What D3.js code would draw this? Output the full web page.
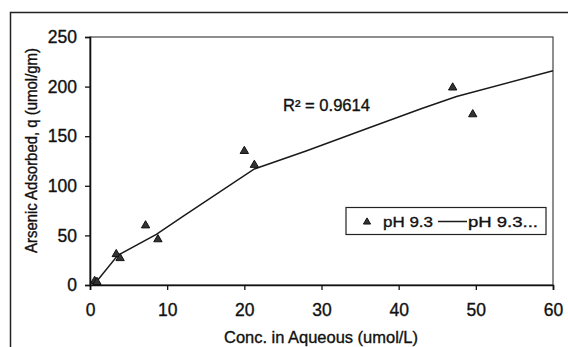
<!DOCTYPE html>
<html>
<head>
<meta charset="utf-8">
<script src="https://cdn.jsdelivr.net/npm/d3@7"></script>
<style>
  html, body { margin: 0; padding: 0; background: #fff; }
  svg { display: block; font-family: "Liberation Sans", Arial, sans-serif; }
  svg text { stroke: #111; stroke-width: 0.35px; }
</style>
</head>
<body>
<svg id="chart" width="568" height="347"></svg>
<script>
// Measured adsorption at pH 9.3
const concValues = [0.6, 0.9, 3.4, 3.9, 7.2, 8.8, 20.0, 21.3, 47.0, 49.6];
const qValues    = [4, 3, 31, 27, 60, 46, 135, 121, 199, 172];

// Trendline through the measurements
const trendConc = [0.8, 3.6, 8.6, 12.0, 21.3, 28.0, 36.0, 43.0, 47.5, 60.0];
const trendQ    = [3, 30, 51, 69, 117, 135, 158, 178, 190, 216];

const xTicks = [0, 10, 20, 30, 40, 50, 60];
const yTicks = [0, 50, 100, 150, 200, 250];

const seriesName = "pH 9.3";
const trendName = "pH 9.3...";
const rSquared = "R\u00B2 = 0.9614";
const xTitle = "Conc. in Aqueous (umol/L)";
const yTitle = "Arsenic Adsorbed, q (umol/gm)";

const svg = d3.select("#chart");
const plot = { left: 90, right: 553, top: 37, bottom: 285 };

const x = d3.scaleLinear().domain([0, 60]).range([plot.left, plot.right]);
const y = d3.scaleLinear().domain([0, 250]).range([plot.bottom, plot.top]);

// Outer chart border (runs off the right and bottom edges)
svg.append("path")
  .attr("d", "M10.5,347 L10.5,12.5 L568,12.5")
  .attr("fill", "none").attr("stroke", "#222").attr("stroke-width", 1.5);

// Plot area frame
svg.append("rect")
  .attr("x", plot.left).attr("y", plot.top)
  .attr("width", plot.right - plot.left).attr("height", plot.bottom - plot.top)
  .attr("fill", "none").attr("stroke", "#444").attr("stroke-width", 1.2);

// Axes
const xAxis = svg.append("g")
  .attr("transform", `translate(0,${plot.bottom})`)
  .call(d3.axisBottom(x).tickValues(xTicks).tickSize(5).tickPadding(8).tickFormat(d3.format("d")));
const yAxis = svg.append("g")
  .attr("transform", `translate(${plot.left},0)`)
  .call(d3.axisLeft(y).tickValues(yTicks).tickSize(5).tickPadding(8).tickFormat(d3.format("d")));

[xAxis, yAxis].forEach(g => {
  g.select(".domain").attr("stroke", "#111").attr("stroke-width", 1.6);
  g.selectAll(".tick line").attr("stroke", "#111").attr("stroke-width", 1.3);
  g.selectAll(".tick text").attr("fill", "#111").attr("font-size", 17.5)
    .attr("font-family", "Liberation Sans, Arial, sans-serif");
});
xAxis.selectAll(".tick text").attr("dy", "1.05em");

// Trendline
const line = d3.line().x((d, i) => x(trendConc[i])).y(d => y(d));
svg.append("path")
  .datum(trendQ)
  .attr("d", line)
  .attr("fill", "none").attr("stroke", "#1a1a1a").attr("stroke-width", 1.5);

// Triangle markers
const tri = d3.symbol().type(d3.symbolTriangle).size(30);
svg.append("g").selectAll("path")
  .data(qValues)
  .join("path")
  .attr("transform", (d, i) => `translate(${x(concValues[i])},${y(d)})`)
  .attr("d", tri)
  .attr("fill", "#333").attr("stroke", "#111").attr("stroke-width", 1);

// R-squared label
svg.append("text")
  .attr("x", 283).attr("y", 111)
  .attr("font-size", 16).attr("fill", "#111")
  .attr("textLength", 87).attr("lengthAdjust", "spacingAndGlyphs")
  .text(rSquared);

// Legend
const legend = svg.append("g");
legend.append("rect")
  .attr("x", 346).attr("y", 207.5).attr("width", 200).attr("height", 27)
  .attr("fill", "#fff").attr("stroke", "#222").attr("stroke-width", 1.2);
legend.append("path")
  .attr("transform", "translate(367,222)")
  .attr("d", d3.symbol().type(d3.symbolTriangle).size(22))
  .attr("fill", "#333").attr("stroke", "#111").attr("stroke-width", 1);
legend.append("text")
  .attr("x", 383).attr("y", 227)
  .attr("font-size", 15).attr("fill", "#111")
  .attr("textLength", 50).attr("lengthAdjust", "spacingAndGlyphs")
  .text(seriesName);
legend.append("line")
  .attr("x1", 438).attr("x2", 467).attr("y1", 221.5).attr("y2", 221.5)
  .attr("stroke", "#1a1a1a").attr("stroke-width", 1.5);
legend.append("text")
  .attr("x", 468).attr("y", 227)
  .attr("font-size", 15).attr("fill", "#111")
  .attr("textLength", 70).attr("lengthAdjust", "spacingAndGlyphs")
  .text(trendName);

// Axis titles
svg.append("text")
  .attr("x", 224).attr("y", 343)
  .attr("font-size", 16).attr("fill", "#111")
  .attr("textLength", 194).attr("lengthAdjust", "spacingAndGlyphs")
  .text(xTitle);
svg.append("text")
  .attr("transform", "translate(37,253) rotate(-90)")
  .attr("font-size", 16).attr("fill", "#111")
  .attr("textLength", 205).attr("lengthAdjust", "spacingAndGlyphs")
  .text(yTitle);
</script>
</body>
</html>
